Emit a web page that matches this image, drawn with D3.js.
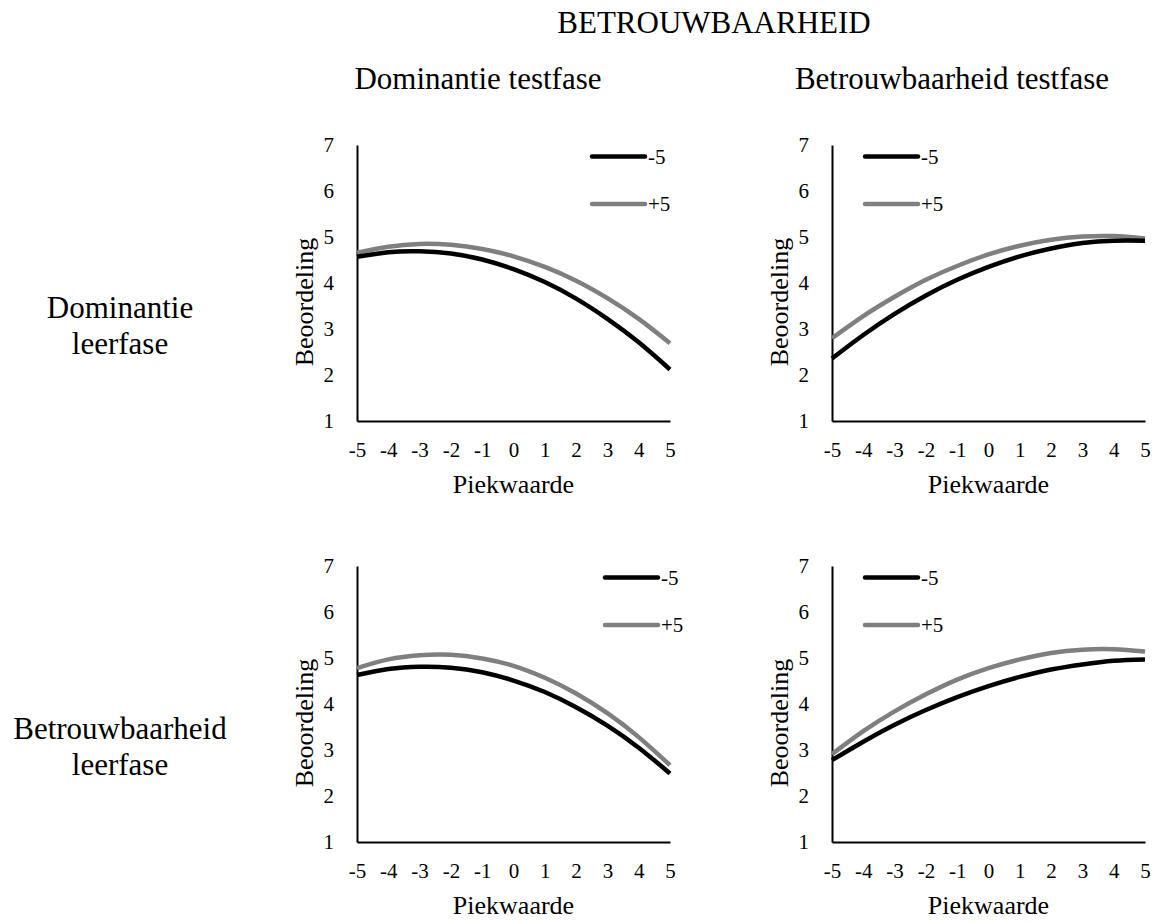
<!DOCTYPE html>
<meta charset="utf-8">
<title>Betrouwbaarheid</title>
<script src="https://cdn.jsdelivr.net/npm/d3@7"></script>
<style>
  body { margin: 0; background: #fff; }
</style>
<div id="chart"></div>
<script>

  // x values (Piekwaarde) and tick labels
  var xVals = [-5, -4, -3, -2, -1, 0, 1, 2, 3, 4, 5];
  var yTicks = [1, 2, 3, 4, 5, 6, 7];
  var seriesNames = ["-5", "+5"];
  var colLabels = ["Dominantie testfase", "Betrouwbaarheid testfase"];
  var rowLabels = [["Dominantie", "leerfase"], ["Betrouwbaarheid", "leerfase"]];

  // Dominantie leerfase / Dominantie testfase
  var domDom_min5 = [4.57, 4.67, 4.69, 4.64, 4.51, 4.30, 4.02, 3.66, 3.22, 2.71, 2.12];
  var domDom_plus5 = [4.66, 4.79, 4.85, 4.83, 4.74, 4.58, 4.35, 4.05, 3.67, 3.22, 2.69];
  // Dominantie leerfase / Betrouwbaarheid testfase
  var domBet_min5 = [2.36, 2.87, 3.33, 3.73, 4.07, 4.35, 4.58, 4.75, 4.87, 4.92, 4.92];
  var domBet_plus5 = [2.80, 3.28, 3.70, 4.07, 4.37, 4.62, 4.81, 4.94, 5.01, 5.02, 4.97];
  // Betrouwbaarheid leerfase / Dominantie testfase
  var betDom_min5 = [4.63, 4.76, 4.81, 4.79, 4.69, 4.51, 4.26, 3.93, 3.53, 3.05, 2.49];
  var betDom_plus5 = [4.78, 4.97, 5.06, 5.07, 4.99, 4.83, 4.57, 4.23, 3.80, 3.28, 2.67];
  // Betrouwbaarheid leerfase / Betrouwbaarheid testfase
  var betBet_min5 = [2.78, 3.18, 3.55, 3.87, 4.15, 4.39, 4.59, 4.75, 4.86, 4.94, 4.97];
  var betBet_plus5 = [2.91, 3.41, 3.84, 4.21, 4.53, 4.78, 4.97, 5.11, 5.18, 5.19, 5.14];

  var colors = ["#000000", "#7f7f7f"];
  var serif = '"Liberation Serif", "Times New Roman", serif';

  var panels = [
    { row: 0, col: 0, series: [domDom_min5, domDom_plus5], legX: 235 },
    { row: 0, col: 1, series: [domBet_min5, domBet_plus5], legX: 33 },
    { row: 1, col: 0, series: [betDom_min5, betDom_plus5], legX: 248 },
    { row: 1, col: 1, series: [betBet_min5, betBet_plus5], legX: 33 }
  ];

  var colLeft = [357, 832], rowTop = [145, 566];
  var pw = 313, ph = 276;

  var svg = d3.select("#chart").append("svg")
    .attr("width", 1157)
    .attr("height", 922);

  // titles
  svg.append("text")
    .attr("x", 714).attr("y", 33)
    .attr("text-anchor", "middle")
    .style("font-size", "31px")
    .text("BETROUWBAARHEID");

  svg.selectAll(".coltitle")
    .data(colLabels)
    .enter().append("text")
    .attr("class", "coltitle")
    .attr("x", function (d, i) { return [478, 952][i]; })
    .attr("y", 89)
    .attr("text-anchor", "middle")
    .style("font-size", "31px")
    .text(function (d) { return d; });

  rowLabels.forEach(function (lines, i) {
    var t = svg.append("text")
      .attr("text-anchor", "middle")
      .style("font-size", "31px");
    lines.forEach(function (l, j) {
      t.append("tspan")
        .attr("x", 120)
        .attr("y", [318, 739][i] + j * 35.5)
        .text(l);
    });
  });

  panels.forEach(function (p) {
    var g = svg.append("g")
      .attr("transform", "translate(" + colLeft[p.col] + "," + rowTop[p.row] + ")");

    var x = d3.scaleLinear().domain([-5, 5]).range([0, pw]);
    var y = d3.scaleLinear().domain([1, 7]).range([ph, 0]);

    var xAxis = g.append("g")
      .attr("transform", "translate(0," + ph + ")")
      .call(d3.axisBottom(x).tickValues(xVals).tickSize(0).tickPadding(21)
        .tickFormat(function (d) { return String(d); }));

    var yAxis = g.append("g")
      .call(d3.axisLeft(y).tickValues(yTicks).tickSize(0).tickPadding(23)
        .tickFormat(function (d) { return String(d); }));

    [xAxis, yAxis].forEach(function (a) {
      a.attr("font-family", null);
      a.select(".domain").attr("stroke", "#000").attr("stroke-width", 2);
      a.selectAll("text").style("font-size", "21px").attr("fill", "#000");
    });

    g.append("text")
      .attr("x", pw / 2).attr("y", ph + 72)
      .attr("text-anchor", "middle")
      .style("font-size", "26px")
      .text("Piekwaarde");

    g.append("text")
      .attr("transform", "translate(-44," + (ph / 2 + 19) + ") rotate(-90)")
      .attr("text-anchor", "middle")
      .style("font-size", "26px")
      .text("Beoordeling");

    var line = d3.line()
      .x(function (d, i) { return x(xVals[i]); })
      .y(function (d) { return y(d); })
      .curve(d3.curveNatural);

    // draw +5 first so the black line lies on top where they cross
    p.series.slice().reverse().forEach(function (s, k) {
      var idx = p.series.length - 1 - k;
      g.append("path")
        .datum(s)
        .attr("d", line)
        .attr("fill", "none")
        .attr("stroke", colors[idx])
        .attr("stroke-width", 4.5);
    });

    // legend
    var leg = g.selectAll(".leg")
      .data(seriesNames)
      .enter().append("g")
      .attr("class", "leg")
      .attr("transform", function (d, i) { return "translate(" + p.legX + "," + (11.5 + i * 47.5) + ")"; });

    leg.append("line")
      .attr("x1", 0).attr("x2", 53)
      .attr("stroke", function (d, i) { return colors[i]; })
      .attr("stroke-width", 4.5)
      .attr("stroke-linecap", "round");

    leg.append("text")
      .attr("x", 56).attr("dy", "0.35em")
      .style("font-size", "21px")
      .text(function (d) { return d; });
  });

  // same serif face for every label
  svg.selectAll("text").style("font-family", serif).attr("fill", "#000");

</script>
